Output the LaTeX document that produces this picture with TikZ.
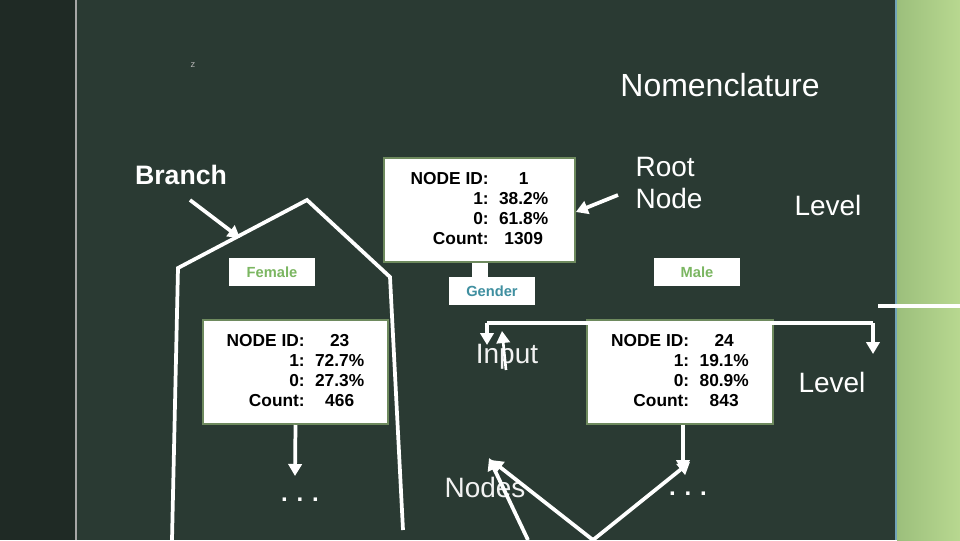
\documentclass[tikz,border=0pt]{standalone}
\usepackage{fontspec}
\setmainfont{Liberation Sans}
\usetikzlibrary{arrows.meta}
\definecolor{bgmain}{HTML}{2A3A33}
\definecolor{bgleft}{HTML}{1F2A25}
\definecolor{boxline}{HTML}{6E8A5E}
\definecolor{catgreen}{HTML}{7BB661}
\definecolor{varteal}{HTML}{3F8FA0}
\definecolor{stripa}{HTML}{9CBF7C}
\definecolor{stripb}{HTML}{B8D890}
\newcommand{\nodestats}[4]{\begin{tabular}{@{}r@{\hspace{0.6em}}c@{}}NODE ID:&#1\\1:&#2\\0:&#3\\Count:&#4\end{tabular}}
\tikzset{
  infobox/.style={draw=boxline, line width=1.5pt, fill=white, font=\bfseries\fontsize{13}{15}\selectfont, inner sep=0pt, minimum height=78pt},
  catbox/.style={fill=white, font=\bfseries\fontsize{11}{13}\selectfont, inner sep=0pt, minimum width=64pt, minimum height=21pt},
  lbl/.style={text=white, font=\fontsize{21}{24}\selectfont},
  wline/.style={draw=white, line width=2.8pt},
  warrow/.style={wline, -{Triangle[width=10pt,length=9pt]}}
}
\begin{document}
\begin{tikzpicture}[x=0.75pt,y=-0.75pt]
\useasboundingbox (0,0) rectangle (960,540);
\fill[bgmain] (0,0) rectangle (960,540);
\fill[bgleft] (0,0) rectangle (75,540);
\draw[gray!70, line width=1.5pt] (76,0) -- (76,540);
\shade[left color=stripa, right color=stripb] (897,0) rectangle (960,540);
\draw[cyan!40!gray, line width=1.5pt] (896,0) -- (896,540);
% titles and labels
\node[text=white, font=\fontsize{24}{28}\selectfont] (title) at (720,85) {Nomenclature};
\node[text=gray!60, font=\scriptsize] (zmark) at (193,65) {z};
\node[text=white, font=\bfseries\fontsize{20}{24}\selectfont] (branch) at (181,175) {Branch};
\node[lbl, align=left] (rootlbl) at (669,183) {Root\\Node};
\node[lbl] (level1) at (828,205) {Level};
\node[lbl] (level2) at (832,382) {Level};
\node[lbl, text=white!90!gray] (input) at (507,357) {Input};
\node[lbl, text=white!90!gray] (nodes) at (485,487) {Nodes};
% tree
\node[infobox, minimum width=143pt] (root) at (479.5,210) {\nodestats{1}{38.2\%}{61.8\%}{1309}};
\fill[white] (root.south) ++(-8,0) rectangle ++(16,14);
\node[catbox, text=varteal] (gender) at (492,291) {Gender};
\node[catbox, text=catgreen] (female) at (272,272) {Female};
\node[catbox, text=catgreen] (male) at (697,272) {Male};
\node[infobox, minimum width=139pt] (left) at (295.5,372) {\nodestats{23}{72.7\%}{27.3\%}{466}};
\node[infobox, minimum width=139pt] (right) at (680,372) {\nodestats{24}{19.1\%}{80.9\%}{843}};
\node[text=white, font=\bfseries\fontsize{18}{20}\selectfont] (dotsl) at (300,500) {. . .};
\node[text=white, font=\bfseries\fontsize{18}{20}\selectfont] (dotsr) at (688,494) {. . .};
% outline of a branch
\coordinate (b1) at (172,540); \coordinate (b2) at (178,268);
\coordinate (b3) at (307,200); \coordinate (b4) at (390,277);
\coordinate (b5) at (403,530);
\draw[wline, line join=miter] (b1) -- (b2) -- (b3) -- (b4) -- (b5);
\coordinate (bs) at (190,200);
\draw[warrow] (bs) -- (240,238);
\coordinate (rl) at (618,195);
\draw[warrow] (rl) -- (root.east |- 212,212);
% level bar
\coordinate (barl) at (487,323); \coordinate (barr) at (873,323);
\draw[wline] (barl) -- (barr);
\draw[warrow] (barl) -- (487,345);
\draw[warrow] (barr) -- (873,354);
\draw[wline] (878,306) -- (960,306);
\coordinate (inp) at (506,370);
\draw[warrow, line width=2pt] (inp) -- (502,331);
% down to further nodes
\draw[warrow] (left.south) -- (295,476);
\draw[warrow] (right.south -| 683,0) -- (683,472);
% pointers to nodes
\coordinate (n1) at (528,540); \coordinate (n2) at (593,540);
\draw[warrow] (n1) -- (489,458);
\draw[warrow] (n2) -- (491,460);
\draw[warrow] (n2) -- (690,462);
\end{tikzpicture}
\end{document}
